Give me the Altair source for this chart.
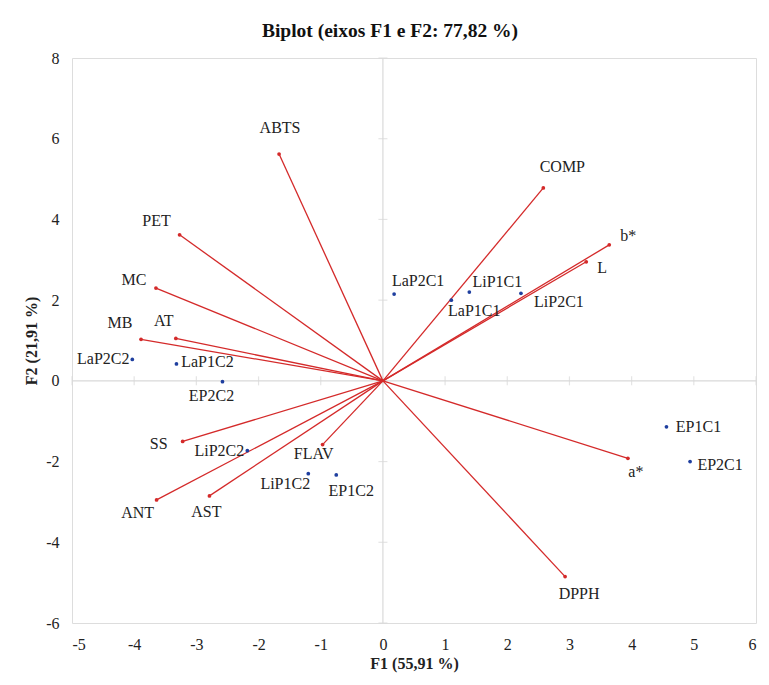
import altair as alt
import pandas as pd

# Variables (red vectors)
var_names = ["ABTS", "COMP", "b*", "L", "PET", "MC", "MB", "AT", "SS", "ANT", "AST", "FLAV", "a*", "DPPH"]
var_f1 = [-1.67, 2.58, 3.64, 3.27, -3.27, -3.65, -3.89, -3.33, -3.22, -3.64, -2.79, -0.97, 3.94, 2.93]
var_f2 = [5.62, 4.78, 3.37, 2.95, 3.62, 2.30, 1.03, 1.05, -1.50, -2.95, -2.85, -1.58, -1.92, -4.85]
var_dx = [1, 19, 19, 16, -23, -22, -21, -12, -24, -19, -3, -9, 8, 14]
var_dy = [-26, -21, -9, 6, -14, -8, -16, -17, 3, 13, 16, 9, 14, 17]

# Observations (blue points)
obs_names = ["LaP2C1", "LiP1C1", "LaP1C1", "LiP2C1", "LaP2C2", "LaP1C2", "EP2C2",
             "LiP2C2", "LiP1C2", "EP1C2", "EP1C1", "EP2C1"]
obs_f1 = [0.18, 1.39, 1.10, 2.22, -4.03, -3.32, -2.58, -2.18, -1.20, -0.75, 4.56, 4.94]
obs_f2 = [2.15, 2.20, 2.00, 2.17, 0.53, 0.42, -0.02, -1.73, -2.30, -2.33, -1.14, -2.00]
obs_dx = [24, 28, 23, 38, -29, 31, -11, -28, -23, 15, 32, 30]
obs_dy = [-13, -10, 11, 9, 0, -2, 14, 0, 10, 16, 0, 3]

x_ticks = list(range(-5, 7))
y_ticks = list(range(-6, 9, 2))

FONT = "'Liberation Serif', 'Times New Roman', 'DejaVu Serif', serif"
RED = "#d42a2a"
BLUE = "#1f3f9f"
GRAY = "#d9d9d9"

vdf = pd.DataFrame({"name": var_names, "f1": var_f1, "f2": var_f2,
                    "x0": [0.0] * len(var_names), "y0": [0.0] * len(var_names)})
odf = pd.DataFrame({"name": obs_names, "f1": obs_f1, "f2": obs_f2})

xs = alt.Scale(domain=[-5, 6], nice=False, zero=False)
ys = alt.Scale(domain=[-6, 8], nice=False, zero=False)

xax = alt.Axis(values=x_ticks, grid=False, domain=False, ticks=False, tickSize=0,
               labelExpr="'' + datum.value",
               labelFont=FONT, labelFontSize=16, labelColor="#222", labelPadding=13,
               title="F1 (55,91 %)", titleFont=FONT, titleFontSize=16, titleFontWeight="bold",
               titleColor="#222", titlePadding=3)
yax = alt.Axis(values=y_ticks, grid=False, domain=False, ticks=False, tickSize=0,
               labelExpr="'' + datum.value",
               labelFont=FONT, labelFontSize=16, labelColor="#222", labelPadding=13,
               title="F2 (21,91 %)", titleFont=FONT, titleFontSize=16, titleFontWeight="bold",
               titleColor="#222", titlePadding=6)

zx = pd.DataFrame({"v": [0.0]})
zero_v = alt.Chart(zx).mark_rule(color=GRAY, strokeWidth=1.2).encode(
    x=alt.X("v:Q", scale=xs, axis=xax))
zero_h = alt.Chart(zx).mark_rule(color=GRAY, strokeWidth=1.2).encode(
    y=alt.Y("v:Q", scale=ys, axis=yax))

xt = pd.DataFrame({"t": x_ticks, "z": [0.0] * len(x_ticks)})
yt = pd.DataFrame({"t": y_ticks, "z": [0.0] * len(y_ticks)})
xtick_marks = alt.Chart(xt).mark_tick(orient="vertical", size=9, thickness=1.2, color=GRAY).encode(
    x=alt.X("t:Q", scale=xs), y=alt.Y("z:Q", scale=ys))
ytick_marks = alt.Chart(yt).mark_tick(orient="horizontal", size=9, thickness=1.2, color=GRAY).encode(
    x=alt.X("z:Q", scale=xs), y=alt.Y("t:Q", scale=ys))

vectors = alt.Chart(vdf).mark_rule(color=RED, strokeWidth=1.3).encode(
    x=alt.X("x0:Q", scale=xs), y=alt.Y("y0:Q", scale=ys), x2="f1:Q", y2="f2:Q")
vdots = alt.Chart(vdf).mark_circle(color=RED, size=14, opacity=1).encode(
    x=alt.X("f1:Q", scale=xs), y=alt.Y("f2:Q", scale=ys))
odots = alt.Chart(odf).mark_circle(color=BLUE, size=14, opacity=1).encode(
    x=alt.X("f1:Q", scale=xs), y=alt.Y("f2:Q", scale=ys))

layers = [zero_v, zero_h, xtick_marks, ytick_marks, vectors, vdots, odots]

for df, names, dxs, dys in [(vdf, var_names, var_dx, var_dy), (odf, obs_names, obs_dx, obs_dy)]:
    for n, dx, dy in zip(names, dxs, dys):
        layers.append(
            alt.Chart(df).transform_filter(alt.datum.name == n)
            .mark_text(font=FONT, fontSize=16, color="#222", dx=dx, dy=dy,
                       align="center", baseline="middle")
            .encode(x=alt.X("f1:Q", scale=xs), y=alt.Y("f2:Q", scale=ys), text="name:N")
        )

chart = alt.layer(*layers).properties(
    width=684, height=565,
    autosize="none",
    padding={"left": 64, "top": 50, "right": 5, "bottom": 58},
    title=alt.TitleParams("Biplot (eixos F1 e F2: 77,82 %)", font=FONT, fontSize=19.5,
                          fontWeight="bold", color="#111", offset=9, dx=-24),
).configure_view(stroke=GRAY, strokeWidth=1.2).configure(background="white")

chart.save("out.html", embed_options={"renderer": "svg", "actions": False})
